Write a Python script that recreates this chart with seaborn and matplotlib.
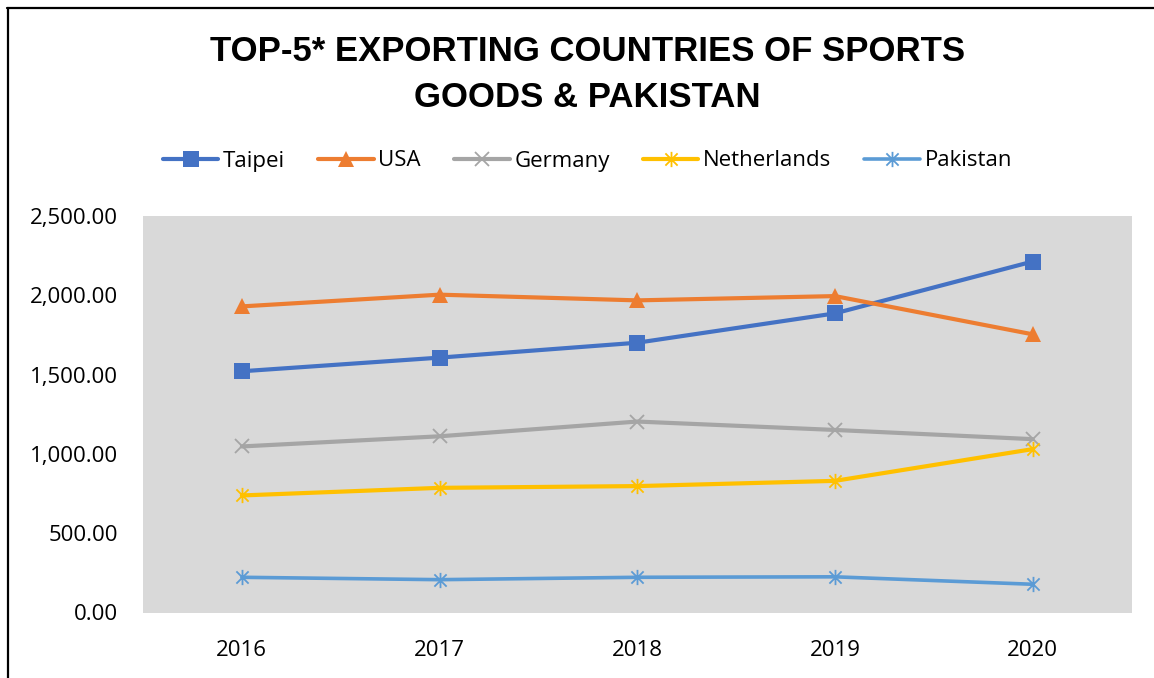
import numpy as np
import pandas as pd
import seaborn as sns
import matplotlib.pyplot as plt
from matplotlib.path import Path
from matplotlib.lines import Line2D

sns.set_style("white")
plt.rcParams['font.family'] = ['Open Sans', 'DejaVu Sans']
plt.rcParams['text.color'] = 'black'
plt.rcParams['xtick.color'] = 'black'
plt.rcParams['ytick.color'] = 'black'

years = [2016, 2017, 2018, 2019, 2020]
countries = ['Taipei', 'USA', 'Germany', 'Netherlands', 'Pakistan']
taipei = [1521, 1607, 1701, 1886, 2213]
usa = [1930, 2004, 1968, 1995, 1754]
germany = [1047, 1111, 1204, 1151, 1093]
netherlands = [738, 786, 797, 830, 1030]
pakistan = [222, 207, 222, 225, 178]

df = pd.DataFrame({
    'year': years * 5,
    'country': np.repeat(countries, len(years)),
    'value': taipei + usa + germany + netherlands + pakistan,
})

# excel style asterisk marker
star = Path([(0, -1), (0, 1), (-0.8, -0.8), (0.8, 0.8), (-0.8, 0.8), (0.8, -0.8)],
            [Path.MOVETO, Path.LINETO, Path.MOVETO, Path.LINETO, Path.MOVETO, Path.LINETO])

styles = {
    'Taipei':      dict(color='#4472C4', marker='s', ms=11, mew=0, lw=3.0),
    'USA':         dict(color='#ED7D31', marker='^', ms=12, mew=0, lw=3.0),
    'Germany':     dict(color='#A5A5A5', marker='x', ms=10, mew=1.3, lw=3.0),
    'Netherlands': dict(color='#FFC000', marker=star, ms=11, mew=1.3, lw=3.0),
    'Pakistan':    dict(color='#5B9BD5', marker=star, ms=11, mew=1.3, lw=2.6),
}

fig = plt.figure(figsize=(11.54, 6.78), dpi=100)
ax = fig.add_axes([143 / 1154, 1 - 612.5 / 678, (1131.5 - 143) / 1154, (612.5 - 216) / 678])
ax.set_facecolor('#D9D9D9')

handles = []
for c in countries:
    st = styles[c]
    sns.lineplot(data=df[df.country == c], x='year', y='value', ax=ax,
                 color=st['color'], marker=st['marker'], markersize=st['ms'],
                 markeredgewidth=st['mew'], markeredgecolor=st['color'],
                 markerfacecolor=st['color'], linewidth=st['lw'])
    handles.append(Line2D([], [], color=st['color'], marker=st['marker'], ms=st['ms'],
                          mew=st['mew'], mec=st['color'], mfc=st['color'], lw=st['lw']))

ax.set_xlim(2015.5, 2020.5)
ax.set_ylim(0, 2500)
ax.set_xticks(years)
ax.set_xticklabels([str(y) for y in years])
ax.set_yticks(np.arange(0, 2501, 500))
ax.set_yticklabels(['{:,.2f}'.format(v) for v in np.arange(0, 2501, 500)])
ax.tick_params(axis='both', length=0, labelsize=16, labelcolor='black')
ax.tick_params(axis='x', pad=20)
ax.tick_params(axis='y', pad=18)
ax.set_xlabel('')
ax.set_ylabel('')
for s in ax.spines.values():
    s.set_visible(False)

fig.text(0.509, 1 - 74.5 / 678, 'TOP-5* EXPORTING COUNTRIES OF SPORTS\nGOODS & PAKISTAN',
         ha='center', va='center', fontsize=25, fontweight='bold', linespacing=1.47,
         color='black', family=['Liberation Sans', 'DejaVu Sans'])

fig.legend(handles, countries, loc='center', bbox_to_anchor=(0.509, 1 - 161 / 678),
           ncol=5, frameon=False, fontsize=16, handlelength=2.5, handletextpad=0.2,
           columnspacing=1.5, labelcolor='black')

# chart frame, only top and left edges visible
fig.add_artist(Line2D([7 / 1154, 1], [1 - 7.5 / 678, 1 - 7.5 / 678], color='black', lw=1.6))
fig.add_artist(Line2D([7.5 / 1154, 7.5 / 1154], [0, 1 - 7.5 / 678], color='black', lw=1.6))

fig.savefig('out.png', dpi=100)
